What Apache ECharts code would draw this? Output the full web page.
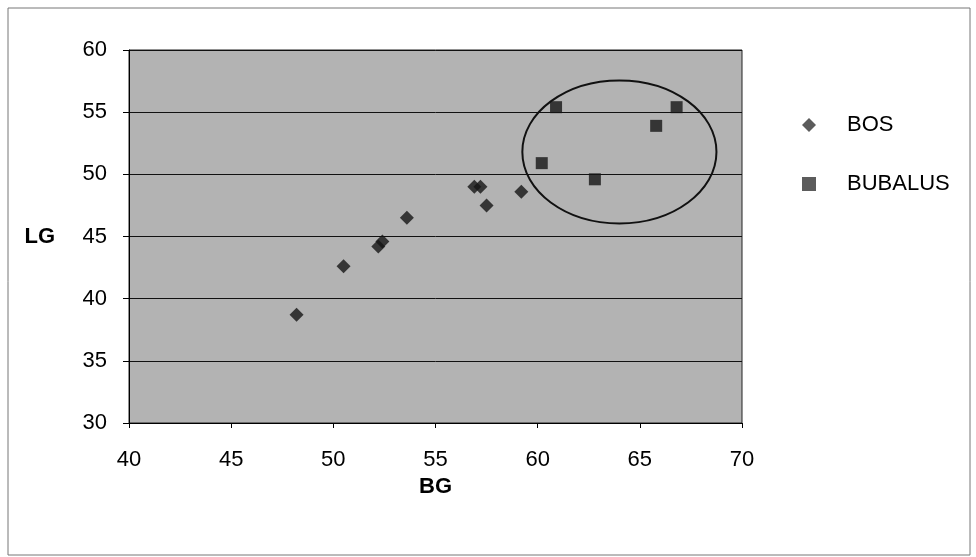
<!DOCTYPE html>
<html>
<head>
<meta charset="utf-8">
<script src="https://cdn.jsdelivr.net/npm/echarts@6/dist/echarts.min.js"></script>
<style>
  html, body { margin: 0; padding: 0; background: #fff; }
  #chart { width: 976px; height: 557px; }
</style>
</head>
<body>
<div id="chart"></div>
<script>
// BOS (diamonds) : [BG, LG]
var bosData = [
    [48.2, 38.7], [50.5, 42.6], [52.2, 44.2], [52.4, 44.6], [53.6, 46.5],
    [56.9, 49.0], [57.2, 49.0], [57.5, 47.5], [59.2, 48.6]
];
// BUBALUS (squares)
var bubalusData = [
    [60.9, 55.4], [60.2, 50.9], [62.8, 49.6], [65.8, 53.9], [66.8, 55.4]
];
// circled group, in data units: centre x, centre y, half width, half height
var groupEllipse = [64.0, 51.8, 4.75, 5.75];

var font = "Liberation Sans, Arial, sans-serif";
var fs = 22;

var chart = echarts.init(document.getElementById('chart'));

var option = {
    animation: false,
    backgroundColor: '#fff',
    textStyle: {fontFamily: font},
    grid: {
        left: 129, top: 50, right: 234, bottom: 134,
        show: true,
        backgroundColor: '#b3b3b3',
        borderColor: '#222',
        borderWidth: 1
    },
    legend: {
        orient: 'vertical',
        left: 797,
        top: 109,
        itemGap: 37,
        itemWidth: 14,
        itemHeight: 14,
        textStyle: {fontSize: fs, color: '#000', fontFamily: font, padding: [0, 0, 0, 26]},
        data: [
            {name: 'BOS', icon: 'diamond', itemStyle: {color: '#333'}},
            {name: 'BUBALUS', icon: 'rect', itemStyle: {color: '#333'}}
        ]
    },
    xAxis: {
        type: 'value',
        min: 40, max: 70, interval: 5,
        name: 'BG',
        nameLocation: 'middle',
        nameGap: 52,
        nameTextStyle: {fontSize: fs, fontWeight: 'bold', color: '#000', fontFamily: font},
        axisLine: {lineStyle: {color: '#000', width: 1}},
        axisTick: {show: true, inside: false, length: 5, lineStyle: {color: '#000'}},
        axisLabel: {fontSize: fs, color: '#000', margin: 26, fontFamily: font},
        splitLine: {show: false}
    },
    yAxis: {
        type: 'value',
        min: 30, max: 60, interval: 5,
        name: 'LG',
        nameLocation: 'middle',
        nameRotate: 0,
        nameGap: 74,
        nameTextStyle: {fontSize: fs, fontWeight: 'bold', color: '#000', fontFamily: font, align: 'right', verticalAlign: 'middle'},
        axisLine: {lineStyle: {color: '#000', width: 1}},
        axisTick: {show: true, inside: false, length: 6, lineStyle: {color: '#000'}},
        axisLabel: {fontSize: fs, color: '#000', margin: 22, fontFamily: font},
        splitLine: {show: true, lineStyle: {color: '#111', width: 1}}
    },
    series: [
        {
            name: 'BOS',
            type: 'scatter',
            symbol: 'diamond',
            symbolSize: 14,
            itemStyle: {color: '#151515'},
            data: bosData
        },
        {
            name: 'BUBALUS',
            type: 'scatter',
            symbol: 'rect',
            symbolSize: 12,
            itemStyle: {color: '#151515'},
            data: bubalusData
        }
    ]
};
chart.setOption(option);

// ellipse round the buffalo points, placed via the axes
var c = chart.convertToPixel({gridIndex: 0}, [groupEllipse[0], groupEllipse[1]]);
var e = chart.convertToPixel({gridIndex: 0}, [groupEllipse[0] + groupEllipse[2], groupEllipse[1] + groupEllipse[3]]);

chart.setOption({
    graphic: [
        {
            type: 'rect',
            shape: {x: 8, y: 8, width: 962, height: 547},
            style: {fill: 'none', stroke: '#777', lineWidth: 1},
            silent: true
        },
        {
            type: 'ellipse',
            shape: {cx: c[0], cy: c[1], rx: e[0] - c[0], ry: c[1] - e[1]},
            style: {fill: 'none', stroke: '#111', lineWidth: 2},
            z: 10,
            silent: true
        }
    ]
});
</script>
</body>
</html>
